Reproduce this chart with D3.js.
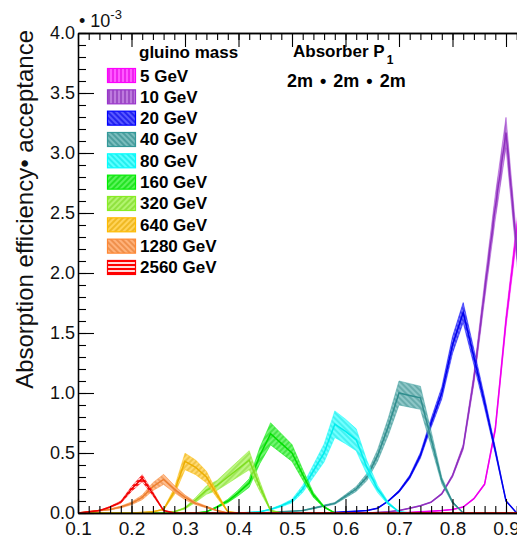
<!DOCTYPE html>
<html>
<head>
<meta charset="utf-8">
<script src="https://cdn.jsdelivr.net/npm/d3@7"></script>
<style>
  body { margin: 0; background: #fff; overflow: hidden; }
  svg { display: block; font-family: "Liberation Sans", Arial, sans-serif; }
</style>
</head>
<body>
<div id="chart"></div>
<script>
// Legend entries (gluino mass) and colours
const massLabels = ["5 GeV", "10 GeV", "20 GeV", "40 GeV", "80 GeV", "160 GeV", "320 GeV", "640 GeV", "1280 GeV", "2560 GeV"];
const seriesColors = ["#ff00ff", "#9933cc", "#0000ff", "#339999", "#00ffff", "#00ee00", "#88ee22", "#ffbb00", "#ff8833", "#ff0000"];
const hatchAngles = [0, 0, -45, -45, -45, 45, 45, 45, -45, 90];

// Curves (values in units of 1e-3)
const x5 = [0.70, 0.72, 0.74, 0.76, 0.78, 0.80, 0.82, 0.84, 0.86, 0.88, 0.90, 0.92, 0.94];
const y5 = [0, 0.005, 0.01, 0.015, 0.02, 0.03, 0.05, 0.12, 0.24, 0.70, 1.60, 2.35, 3.0];
const x10 = [0.64, 0.66, 0.68, 0.70, 0.72, 0.74, 0.76, 0.78, 0.80, 0.82, 0.84, 0.86, 0.88, 0.90, 0.92, 0.94];
const y10 = [0, 0.005, 0.01, 0.02, 0.04, 0.06, 0.09, 0.16, 0.31, 0.55, 1.12, 1.85, 2.55, 3.17, 2.2, 1.2];
const x20 = [0.56, 0.58, 0.60, 0.62, 0.64, 0.66, 0.68, 0.70, 0.72, 0.74, 0.76, 0.78, 0.80, 0.82, 0.84, 0.86, 0.88, 0.90, 0.92];
const y20 = [0, 0.005, 0.01, 0.015, 0.02, 0.04, 0.10, 0.18, 0.30, 0.48, 0.75, 1.0, 1.40, 1.67, 1.30, 0.92, 0.52, 0.10, 0];
const x40 = [0.44, 0.46, 0.48, 0.50, 0.52, 0.54, 0.56, 0.58, 0.60, 0.62, 0.64, 0.66, 0.68, 0.70, 0.72, 0.74, 0.76, 0.78, 0.80, 0.82];
const y40 = [0, 0.005, 0.01, 0.015, 0.02, 0.04, 0.06, 0.08, 0.14, 0.20, 0.30, 0.48, 0.72, 1.0, 0.98, 0.96, 0.62, 0.27, 0.09, 0];
const x80 = [0.40, 0.42, 0.44, 0.46, 0.48, 0.50, 0.52, 0.54, 0.56, 0.58, 0.60, 0.62, 0.64, 0.66, 0.68, 0.70, 0.72];
const y80 = [0, 0.005, 0.01, 0.03, 0.06, 0.10, 0.20, 0.35, 0.50, 0.74, 0.68, 0.61, 0.38, 0.20, 0.08, 0.01, 0];
const x160 = [0.32, 0.34, 0.36, 0.38, 0.40, 0.42, 0.44, 0.46, 0.48, 0.50, 0.52, 0.54, 0.56, 0.58];
const y160 = [0, 0.01, 0.05, 0.10, 0.17, 0.25, 0.48, 0.66, 0.58, 0.50, 0.32, 0.15, 0.05, 0];
const x320 = [0.26, 0.28, 0.30, 0.32, 0.34, 0.36, 0.38, 0.40, 0.42, 0.44, 0.46, 0.48];
const y320 = [0, 0.01, 0.04, 0.11, 0.19, 0.23, 0.30, 0.37, 0.44, 0.22, 0.02, 0];
const x640 = [0.20, 0.22, 0.24, 0.26, 0.28, 0.30, 0.32, 0.34, 0.36, 0.38, 0.40];
const y640 = [0, 0.005, 0.01, 0.03, 0.18, 0.43, 0.38, 0.30, 0.15, 0.01, 0];
const x1280 = [0.10, 0.12, 0.14, 0.16, 0.18, 0.20, 0.22, 0.24, 0.26, 0.28, 0.30, 0.32, 0.34, 0.36, 0.38];
const y1280 = [0, 0.01, 0.02, 0.03, 0.05, 0.08, 0.13, 0.22, 0.28, 0.20, 0.13, 0.08, 0.05, 0.02, 0];
const x2560 = [0.10, 0.12, 0.14, 0.16, 0.18, 0.20, 0.22, 0.24, 0.26, 0.28];
const y2560 = [0, 0.01, 0.02, 0.05, 0.09, 0.20, 0.29, 0.16, 0.02, 0];
// relative half-width of the error band for each mass
const relErr = [0.03, 0.04, 0.05, 0.10, 0.15, 0.14, 0.18, 0.16, 0.15, 0.10];

const xsAll = [x5, x10, x20, x40, x80, x160, x320, x640, x1280, x2560];
const ysAll = [y5, y10, y20, y40, y80, y160, y320, y640, y1280, y2560];

const width = 517;
const height = 542;
const frame = {left: 78, top: 33, bottom: 513};

const svg = d3.select("#chart")
    .append("svg")
    .attr("width", width)
    .attr("height", height);

// Scales: x axis is cut at the right edge of the picture
const x = d3.scaleLinear()
    .domain([0.1, 1.0])
    .range([frame.left, frame.left + 9 * 53.5]);
const y = d3.scaleLinear()
    .domain([0, 4])
    .range([frame.bottom, frame.top]);

const series = massLabels.map((label, i) => {
    let pts = xsAll[i].map((v, j) => ({x: v, y: ysAll[i][j]}));
    if (pts[0].x > 0.1) pts.unshift({x: 0.1, y: 0});
    if (pts[pts.length - 1].x < 1.0) pts.push({x: 1.0, y: 0});
    return {label: label, color: seriesColors[i], angle: hatchAngles[i], err: relErr[i], pts: pts};
});

// Hatch patterns
const defs = svg.append("defs");
series.forEach((s, i) => {
    const p = defs.append("pattern")
        .attr("id", "hatch" + i)
        .attr("patternUnits", "userSpaceOnUse")
        .attr("width", 4)
        .attr("height", 4)
        .attr("patternTransform", `rotate(${s.angle})`);
    p.append("rect")
        .attr("width", 4)
        .attr("height", 4)
        .attr("fill", d3.interpolateRgb(s.color, "#fff")(i === 9 ? 0.85 : 0.35));
    p.append("line")
        .attr("x1", 1).attr("y1", 0)
        .attr("x2", 1).attr("y2", 4)
        .attr("stroke", i === 9 ? s.color : d3.color(s.color).darker(0.3))
        .attr("stroke-width", i === 9 ? 2 : 1.2);
});

defs.append("clipPath").attr("id", "plotClip")
    .append("rect")
    .attr("x", frame.left)
    .attr("y", frame.top)
    .attr("width", width - frame.left)
    .attr("height", frame.bottom - frame.top);

// Bands and central lines
const plot = svg.append("g").attr("clip-path", "url(#plotClip)");

const band = d3.area()
    .x(d => x(d.x))
    .y0(d => y(d.y * (1 - d.e)))
    .y1(d => y(d.y * (1 + d.e)));
const line = d3.line()
    .x(d => x(d.x))
    .y(d => y(d.y));

series.forEach((s, i) => {
    const bd = s.pts.map(d => ({x: d.x, y: d.y, e: s.err}));
    plot.append("path")
        .datum(bd)
        .attr("fill", `url(#hatch${i})`)
        .attr("fill-opacity", 0.85)
        .attr("stroke", s.color)
        .attr("stroke-opacity", 0.6)
        .attr("stroke-width", 0.8)
        .attr("d", band);
    plot.append("path")
        .datum(s.pts)
        .attr("fill", "none")
        .attr("stroke", d3.color(s.color).darker(0.2))
        .attr("stroke-width", 1.5)
        .attr("d", line);
});

// Axes (ROOT style: ticks inside the frame)
const fmt = d3.format(".1f");

svg.append("g")
    .attr("transform", `translate(0,${frame.bottom})`)
    .call(d3.axisBottom(x).ticks(45).tickSize(-7).tickSizeOuter(0).tickFormat(""));
svg.append("g")
    .attr("class", "xmajor")
    .attr("transform", `translate(0,${frame.bottom})`)
    .call(d3.axisBottom(x).ticks(9).tickSize(-14).tickSizeOuter(0).tickPadding(9).tickFormat(fmt));

svg.append("g")
    .attr("transform", `translate(0,${frame.top})`)
    .call(d3.axisTop(x).ticks(45).tickSize(-7).tickSizeOuter(0).tickFormat(""));
svg.append("g")
    .attr("transform", `translate(0,${frame.top})`)
    .call(d3.axisTop(x).ticks(9).tickSize(-14).tickSizeOuter(0).tickFormat(""));

svg.append("g")
    .attr("transform", `translate(${frame.left},0)`)
    .call(d3.axisLeft(y).ticks(40).tickSize(-8).tickSizeOuter(0).tickFormat(""));
svg.append("g")
    .attr("class", "ymajor")
    .attr("transform", `translate(${frame.left},0)`)
    .call(d3.axisLeft(y).ticks(8).tickSize(-16).tickSizeOuter(0).tickPadding(3).tickFormat(fmt));

svg.selectAll(".domain").attr("stroke", "#000").attr("stroke-width", 1.3);
svg.selectAll(".tick line").attr("stroke", "#000").attr("stroke-width", 1.1);
svg.selectAll(".xmajor text").style("font-size", "19px").attr("fill", "#111");
svg.selectAll(".ymajor text").style("font-size", "18px").attr("fill", "#111");
svg.selectAll("text").style("font-family", "'Liberation Sans', Arial, sans-serif");

// Exponent
const expo = svg.append("text")
    .attr("x", 79)
    .attr("y", 27)
    .attr("fill", "#111")
    .style("font-size", "18px");
expo.append("tspan").text("• 10");
expo.append("tspan").attr("dy", -8).style("font-size", "13px").text("-3");

// Y axis title
svg.append("text")
    .attr("transform", "rotate(-90)")
    .attr("x", -30)
    .attr("y", 33)
    .attr("text-anchor", "end")
    .attr("fill", "#111")
    .style("font-size", "24px")
    .text("Absorption efficiency• acceptance");

// Legend
const legend = svg.append("g");
legend.append("text")
    .attr("x", 139)
    .attr("y", 58)
    .style("font-size", "17px")
    .style("font-weight", "bold")
    .text("gluino mass");

series.forEach((s, i) => {
    const cy = 75.5 + i * 21.33;
    legend.append("rect")
        .attr("x", 107.5)
        .attr("y", cy - 7)
        .attr("width", 28)
        .attr("height", 14)
        .attr("fill", `url(#hatch${i})`)
        .attr("stroke", s.color)
        .attr("stroke-width", 1.2);
    legend.append("text")
        .attr("x", 140)
        .attr("y", cy + 6)
        .style("font-size", "17px")
        .style("font-weight", "bold")
        .text(s.label);
});

// Absorber label
const absorb = svg.append("text")
    .attr("x", 293)
    .attr("y", 57)
    .style("font-size", "17px")
    .style("font-weight", "bold");
absorb.append("tspan").text("Absorber P");
absorb.append("tspan").attr("dy", 7).attr("dx", 2).style("font-size", "12px").text("1");

svg.append("text")
    .attr("x", 287)
    .attr("y", 87)
    .style("font-size", "18px")
    .style("font-weight", "bold")
    .style("word-spacing", "2px")
    .text("2m • 2m • 2m");
</script>
</body>
</html>
